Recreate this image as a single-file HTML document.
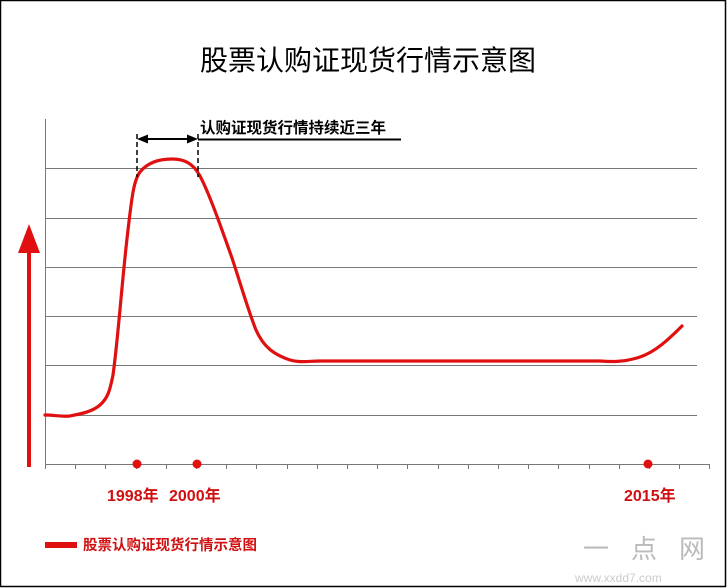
<!DOCTYPE html>
<html><head><meta charset="utf-8"><style>
html,body{margin:0;padding:0;background:#fff}
svg{display:block}
text{font-family:"Liberation Sans","Noto Sans CJK SC",sans-serif}
</style></head><body>
<svg width="727" height="588" viewBox="0 0 727 588" xmlns="http://www.w3.org/2000/svg">
<rect x="0.5" y="0.5" width="725" height="586" fill="#fff" stroke="#000" stroke-width="1.5"/>
<text x="368" y="70" font-size="28" text-anchor="middle" fill="#000">股票认购证现货行情示意图</text>
<g stroke="#777" stroke-width="1">
<line x1="45" y1="168.5" x2="697" y2="168.5"/>
<line x1="45" y1="218.5" x2="697" y2="218.5"/>
<line x1="45" y1="267.5" x2="697" y2="267.5"/>
<line x1="45" y1="316.5" x2="697" y2="316.5"/>
<line x1="45" y1="365.5" x2="697" y2="365.5"/>
<line x1="45" y1="415.5" x2="697" y2="415.5"/>
<line x1="45" y1="464.5" x2="710" y2="464.5"/>
<line x1="45.5" y1="119" x2="45.5" y2="469"/>
<line x1="75.5" y1="464" x2="75.5" y2="469"/><line x1="105.5" y1="464" x2="105.5" y2="469"/>
<line x1="136.5" y1="464" x2="136.5" y2="469"/><line x1="166.5" y1="464" x2="166.5" y2="469"/>
<line x1="196.5" y1="464" x2="196.5" y2="469"/><line x1="226.5" y1="464" x2="226.5" y2="469"/>
<line x1="256.5" y1="464" x2="256.5" y2="469"/><line x1="287.5" y1="464" x2="287.5" y2="469"/>
<line x1="317.5" y1="464" x2="317.5" y2="469"/><line x1="347.5" y1="464" x2="347.5" y2="469"/>
<line x1="377.5" y1="464" x2="377.5" y2="469"/><line x1="407.5" y1="464" x2="407.5" y2="469"/>
<line x1="438.5" y1="464" x2="438.5" y2="469"/><line x1="468.5" y1="464" x2="468.5" y2="469"/>
<line x1="498.5" y1="464" x2="498.5" y2="469"/><line x1="528.5" y1="464" x2="528.5" y2="469"/>
<line x1="558.5" y1="464" x2="558.5" y2="469"/><line x1="589.5" y1="464" x2="589.5" y2="469"/>
<line x1="619.5" y1="464" x2="619.5" y2="469"/><line x1="649.5" y1="464" x2="649.5" y2="469"/>
<line x1="679.5" y1="464" x2="679.5" y2="469"/><line x1="709.5" y1="464" x2="709.5" y2="469"/>
</g>
<path d="M45,415 C55,415 62,417 70,416 C80,414 92,412 100,405 C108,398 110,390 113,375 C118,340 122,280 128,230 C132,195 134,180 140,172 C148,162 160,159 172,159 C184,159 193,163 200,176 C210,195 222,230 232,258 C240,282 248,310 256,330 C264,348 275,355 290,360 C300,363 310,361 320,361 L600,361 C612,362 625,362 640,357 C655,352 668,340 682,326" fill="none" stroke="#e01010" stroke-width="3.2" stroke-linecap="round"/>
<g stroke="#000" stroke-width="1.5" stroke-dasharray="5,3">
<line x1="137" y1="134" x2="137" y2="177"/>
<line x1="198" y1="134" x2="198" y2="177"/>
</g>
<line x1="142" y1="139" x2="193" y2="139" stroke="#000" stroke-width="2"/>
<polygon points="137,139 148,134.5 148,143.5" fill="#000"/>
<polygon points="198,139 187,134.5 187,143.5" fill="#000"/>
<line x1="198" y1="139.5" x2="401" y2="139.5" stroke="#000" stroke-width="2"/>
<text x="200" y="133" font-size="15.5" font-weight="bold" fill="#000">认购证现货行情持续近三年</text>
<line x1="29" y1="250" x2="29" y2="467" stroke="#e01010" stroke-width="4"/>
<polygon points="29,224 18,253 40,253" fill="#e01010"/>
<circle cx="137" cy="464" r="4.5" fill="#e01010"/>
<circle cx="197" cy="464" r="4.5" fill="#e01010"/>
<circle cx="648" cy="464" r="4.5" fill="#e01010"/>
<text x="107" y="501" font-size="16" font-weight="bold" fill="#d01010">1998年</text>
<text x="169" y="501" font-size="16" font-weight="bold" fill="#d01010">2000年</text>
<text x="624" y="501" font-size="16" font-weight="bold" fill="#d01010">2015年</text>
<rect x="45" y="542" width="32" height="6" fill="#e01010"/>
<text x="83" y="550" font-size="14.5" font-weight="bold" fill="#d01010">股票认购证现货行情示意图</text>
<text x="583" y="558" font-size="26" fill="#bbb" letter-spacing="22">一点网</text>
<text x="575" y="582" font-size="12" fill="#ccc">www.xxdd7.com</text>
</svg>
</body></html>
